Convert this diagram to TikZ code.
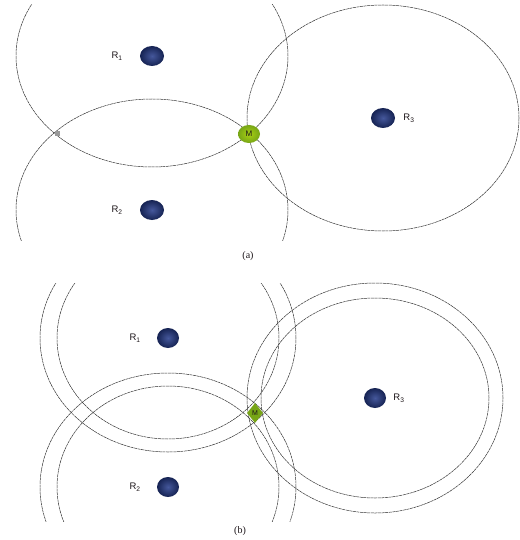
\documentclass[tikz,border=0pt]{standalone}
\usepackage{fontspec}
\setmainfont{Liberation Serif}
\setsansfont{Liberation Sans}
\usepackage{tikz}
\usetikzlibrary{positioning,shapes.geometric}
\definecolor{ink}  {HTML}{1B1418}
\definecolor{navy} {HTML}{243A8A}
\definecolor{lime} {HTML}{8CC21A}
\definecolor{wire} {HTML}{333333}
\tikzset{
  % --- nodes
  rcv/.style   = {ellipse, inner sep=0pt, minimum width=24pt, minimum height=20pt,
                  shading=radial, inner color=navy!85!white, outer color=navy!60!black},
  mob/.style   = {ellipse, inner sep=0pt, minimum width=22pt, minimum height=18pt,
                  shading=radial, inner color=lime!75!yellow, outer color=lime!85!black,
                  font=\sffamily\fontsize{8}{9}\selectfont, text=ink},
  mobd/.style  = {diamond, inner sep=0pt, minimum width=16pt, minimum height=20pt,
                  fill=lime!85!black, font=\sffamily\fontsize{7}{8}\selectfont, text=ink},
  ghost/.style = {rectangle, inner sep=0pt, minimum size=5pt, fill=gray!80},
  lbl/.style   = {font=\sffamily\fontsize{9.5}{11}\selectfont, text=ink, inner sep=0pt},
  subcap/.style= {font=\fontsize{10}{11}\selectfont, text=ink},
  % --- rings
  ring/.style  = {draw=wire, line width=0.5pt, dash pattern=on 3pt off 0.6pt},
}

\begin{document}
\begin{tikzpicture}[x=1pt,y=-1pt]
  \useasboundingbox (0,0) rectangle (519,540);

  % (a) one range circle per receiver
  \node[rcv] (r1a) at (152,56)  {};
  \node[rcv] (r2a) at (152,210) {};
  \node[rcv] (r3a) at (383,118) {};
  \node[lbl, left=17pt of r1a]  {R\textsubscript{1}};
  \node[lbl, left=17pt of r2a]  {R\textsubscript{2}};
  \node[lbl, right=8pt of r3a]  {R\textsubscript{3}};
  \begin{scope}
    \clip (0,5) rectangle (519,240);
    \draw[ring] (r1a.center) ellipse [x radius=136pt, y radius=111pt];
    \draw[ring] (r2a.center) ellipse [x radius=136pt, y radius=111pt];
  \end{scope}
  \draw[ring] (r3a.center) ellipse [x radius=136pt, y radius=113pt];
  \node[ghost] (xa) at (57,134) {};
  \node[mob]   (ma) at (249,134) {M};
  \node[subcap] (capa) at (248,256) {(a)};

  % (b) range bands: inner and outer circle per receiver
  \node[rcv, minimum width=22pt] (r1b) at (168,338) {};
  \node[rcv, minimum width=22pt] (r2b) at (168,487) {};
  \node[rcv, minimum width=22pt] (r3b) at (375,398) {};
  \node[lbl, left=16pt of r1b]  {R\textsubscript{1}};
  \node[lbl, left=16pt of r2b]  {R\textsubscript{2}};
  \node[lbl, right=7pt of r3b]  {R\textsubscript{3}};
  \begin{scope}
    \clip (0,283) rectangle (519,521);
    \foreach \rx/\ry in {111/101,128/114}{
      \draw[ring] (r1b.center) ellipse [x radius=\rx pt, y radius=\ry pt];
      \draw[ring] (r2b.center) ellipse [x radius=\rx pt, y radius=\ry pt];
    }
  \end{scope}
  \foreach \rx/\ry in {114/100,128/115}
    \draw[ring] (r3b.center) ellipse [x radius=\rx pt, y radius=\ry pt];
  \node[mobd] (mb) at (255,413) {M};
  \node[subcap] (capb) at (240,531) {(b)};
\end{tikzpicture}
\end{document}
